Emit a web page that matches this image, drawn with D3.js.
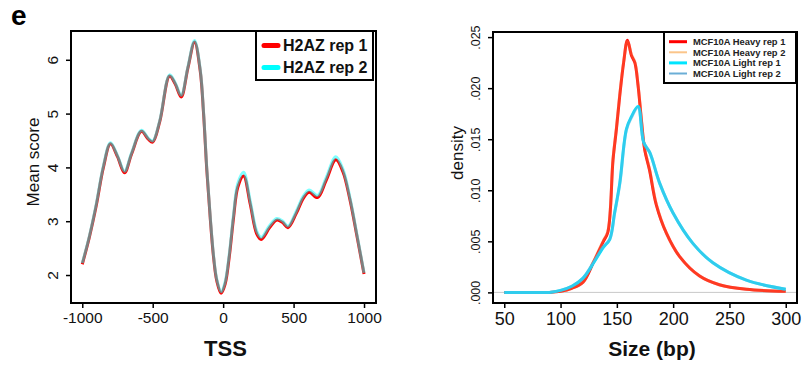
<!DOCTYPE html>
<html><head><meta charset="utf-8">
<script src="https://cdn.jsdelivr.net/npm/d3@7"></script>
<style>body{margin:0;background:#fff}svg{display:block;font-family:"Liberation Sans",Arial,sans-serif}</style>
</head><body><svg id="c" width="805" height="366"></svg>
<script>
// ---- Panel 1 data (H2AZ around TSS) ----
const tssPos = [-1000,-950,-900,-850,-800,-750,-700,-650,-580,-530,-500,-450,-380,-340,-298,-250,-203,-163,-139,-116,-92,-68,-45,-14,14,43,74,104,145,192,239,270,330,380,420,460,520,570,610,670,730,800,850,900,950,1000];
const h2azRep1 = [2.2,2.7,3.3,4.0,4.44,4.2,3.9,4.25,4.67,4.52,4.47,4.85,5.70,5.55,5.31,5.85,6.33,5.80,5.0,3.95,3.07,2.33,1.89,1.66,1.83,2.33,3.07,3.63,3.84,3.32,2.76,2.66,2.88,3.02,2.98,2.88,3.15,3.43,3.54,3.44,3.75,4.14,3.92,3.4,2.72,2.02];
const h2azRep2 = [2.22,2.72,3.33,4.03,4.46,4.22,3.93,4.27,4.69,4.54,4.49,4.87,5.72,5.57,5.34,5.87,6.36,5.83,5.03,3.98,3.10,2.36,1.92,1.69,1.87,2.38,3.13,3.70,3.91,3.38,2.81,2.70,2.92,3.05,3.01,2.91,3.19,3.47,3.58,3.48,3.80,4.20,3.97,3.44,2.75,2.04];
const tssXTicks = [-1000,-500,0,500,1000];
const tssYTicks = [2,3,4,5,6];
const tssSeries = ["H2AZ rep 1","H2AZ rep 2"];

// ---- Panel 2 data (fragment size density) ----
const heavySize = [50,60,70,80,90,100,110,120,129,138,142,146.6,149.6,152.5,156,159.4,163,166,168.8,171.7,174.7,179,185,194,205.8,223.5,241,265,300];
const heavyRep1 = [0,0,0,0,0,0.0001,0.0004,0.0010,0.0029,0.0050,0.0059,0.0130,0.0160,0.0192,0.0225,0.0247,0.0232,0.0225,0.0203,0.0170,0.0140,0.0120,0.0086,0.0058,0.0035,0.0016,0.00075,0.0003,0.0001];
const heavyRep2 = [0,0,0,0,0,0.0001,0.0004,0.0010,0.0030,0.0051,0.0060,0.0131,0.0161,0.0193,0.0226,0.0246,0.0233,0.0226,0.0204,0.0171,0.0141,0.0121,0.0087,0.0058,0.0035,0.0016,0.00075,0.0003,0.0001];
const lightSize = [50,60,70,80,90,100,110,120,130,138,143.7,148,152.6,158.5,162.9,168.8,173.8,179.2,188,199.8,217.5,235.3,265,300];
const lightRep1 = [0,0,0,0,0,0.0002,0.0006,0.0014,0.0030,0.0044,0.0052,0.0078,0.0107,0.0160,0.0172,0.0182,0.0147,0.0137,0.0107,0.0078,0.0048,0.0029,0.0012,0.0003];
const lightRep2 = [0,0,0,0,0,0.0002,0.0006,0.0014,0.0031,0.0045,0.0052,0.0077,0.0106,0.0159,0.0171,0.0181,0.0147,0.0137,0.0107,0.0078,0.0048,0.0029,0.0012,0.0003];
const sizeXTicks = [50,100,150,200,250,300];
const sizeYTicks = [0,0.005,0.010,0.015,0.020,0.025];
const sizeSeries = ["MCF10A Heavy rep 1","MCF10A Heavy rep 2","MCF10A Light rep 1","MCF10A Light rep 2"];

const svg = d3.select("#c");

// panel label
svg.append("text").attr("x",11).attr("y",25).attr("font-size",28).attr("font-weight","bold").text("e");

function frame(g, x0, x1, y0, y1){
  g.append("rect").attr("x",x0).attr("y",y0).attr("width",x1-x0).attr("height",y1-y0)
   .attr("fill","none").attr("stroke","#000").attr("stroke-width",2);
}

// ---------- Panel 1 ----------
{
  const L=71,R=376,T=31,B=303;
  const x = d3.scaleLinear().domain([-1080,1085]).range([L,R]);
  const y = d3.scaleLinear().domain([1.48,6.535]).range([B,T]);
  const g = svg.append("g");
  frame(g,L,R,T,B);
  const xa = g.append("g").attr("transform",`translate(0,${B})`)
    .call(d3.axisBottom(x).tickValues(tssXTicks).tickSize(5).tickPadding(4).tickSizeOuter(0).tickFormat(d=>String(d)));
  xa.select(".domain").remove();
  xa.selectAll("line").attr("stroke-width",1.5);
  xa.selectAll("text").attr("font-size",15.5).attr("font-family","Liberation Sans, Arial, sans-serif").attr("fill","#111");
  const ya = g.append("g").attr("transform",`translate(${L},0)`)
    .call(d3.axisLeft(y).tickValues(tssYTicks).tickSize(5).tickSizeOuter(0).tickFormat(d=>String(d)));
  ya.select(".domain").remove();
  ya.selectAll("line").attr("stroke-width",1.5);
  ya.selectAll("text").attr("font-size",15.5).attr("font-family","Liberation Sans, Arial, sans-serif").attr("fill","#111")
    .attr("x",0).attr("text-anchor","middle")
    .attr("transform","translate(-18,0) rotate(-90)").attr("dy","0.35em");
  const line = d3.line().x((d,i)=>x(tssPos[i])).y(d=>y(d)).curve(d3.curveCatmullRom.alpha(0.5));
  g.append("path").datum(h2azRep1).attr("d",line).attr("fill","none").attr("stroke","#ff0000").attr("stroke-width",3);
  g.append("path").datum(h2azRep2).attr("d",line).attr("fill","none").attr("stroke","#00ffff").attr("stroke-width",3).attr("stroke-opacity",0.5);
  svg.append("text").attr("transform","translate(39,162) rotate(-90)").attr("text-anchor","middle")
    .attr("font-size",17).attr("fill","#111").text("Mean score");
  svg.append("text").attr("x",(L+R)/2+2).attr("y",356).attr("text-anchor","middle")
    .attr("font-size",22).attr("font-weight","bold").attr("fill","#111").text("TSS");
  const lg = g.append("g");
  lg.append("rect").attr("x",256).attr("y",T).attr("width",R-256-3).attr("height",49)
    .attr("fill","#fff").attr("stroke","#000").attr("stroke-width",2);
  const lc = ["#ff0000","#00ffff"];
  tssSeries.forEach((s,i)=>{
    const yy = 45.5 + i*22;
    lg.append("line").attr("x1",264).attr("x2",278).attr("y1",yy).attr("y2",yy)
      .attr("stroke",lc[i]).attr("stroke-width",5).attr("stroke-linecap","round");
    lg.append("text").attr("x",283).attr("y",yy).attr("dy","0.36em").attr("font-size",16)
      .attr("font-weight","bold").attr("fill","#111").text(s);
  });
}

// ---------- Panel 2 ----------
{
  const L=493,R=797,T=32,B=303;
  const x = d3.scaleLinear().domain([40,310]).range([L,R]);
  const y = d3.scaleLinear().domain([-0.00104,0.0255]).range([B,T]);
  const g = svg.append("g");
  g.append("line").attr("x1",L).attr("x2",R).attr("y1",y(0)).attr("y2",y(0)).attr("stroke","#c8c8c8").attr("stroke-width",1);
  const mk = xs => d3.line().x((d,i)=>x(xs[i])).y(d=>y(d)).curve(d3.curveCatmullRom.alpha(0.5));
  const cols = ["#ff0000","#fdbf6f","#00e5ff","#6baed6"];
  const ops = [1,0.3,1,0.45];
  [[heavyRep1,heavySize],[heavyRep2,heavySize],[lightRep1,lightSize],[lightRep2,lightSize]].forEach(([s,xs],i)=>{
    g.append("path").datum(s).attr("d",mk(xs)).attr("fill","none").attr("stroke",cols[i])
      .attr("stroke-width",3).attr("stroke-opacity",ops[i]).attr("stroke-linejoin","round");
  });
  frame(g,L,R,T,B);
  const xa = g.append("g").attr("transform",`translate(0,${B})`)
    .call(d3.axisBottom(x).tickValues(sizeXTicks).tickSize(5).tickPadding(4).tickSizeOuter(0).tickFormat(d=>String(d)));
  xa.select(".domain").remove();
  xa.selectAll("line").attr("stroke-width",1.5);
  xa.selectAll("text").attr("font-size",18).attr("font-family","Liberation Sans, Arial, sans-serif").attr("fill","#111");
  const ya = g.append("g").attr("transform",`translate(${L},0)`)
    .call(d3.axisLeft(y).tickValues(sizeYTicks).tickSize(5).tickSizeOuter(0).tickFormat(d=>d3.format(".3f")(d).replace(/^0/,"")));
  ya.select(".domain").remove();
  ya.selectAll("line").attr("stroke-width",1.5);
  ya.selectAll("text").attr("font-size",12.5).attr("font-family","Liberation Sans, Arial, sans-serif").attr("fill","#111")
    .attr("x",0).attr("text-anchor","middle")
    .attr("transform","translate(-17,0) rotate(-90)").attr("dy","0.35em");
  svg.append("text").attr("transform","translate(463,153) rotate(-90)").attr("text-anchor","middle")
    .attr("font-size",17).attr("fill","#111").text("density");
  svg.append("text").attr("x",652).attr("y",356).attr("text-anchor","middle")
    .attr("font-size",21).attr("font-weight","bold").attr("fill","#111").text("Size (bp)");
  const lg = g.append("g");
  lg.append("rect").attr("x",664).attr("y",T).attr("width",R-664-1).attr("height",51)
    .attr("fill","#fff").attr("stroke","#000").attr("stroke-width",2);
  const lw = [3,2,3,2];
  sizeSeries.forEach((s,i)=>{
    const yy = 41.7 + i*10.6;
    lg.append("line").attr("x1",669).attr("x2",687).attr("y1",yy).attr("y2",yy)
      .attr("stroke",i===1?"#fbc58a":cols[i]).attr("stroke-width",lw[i]);
    lg.append("text").attr("x",693).attr("y",yy).attr("dy","0.36em").attr("font-size",9.4)
      .attr("font-weight","bold").attr("fill","#222").text(s);
  });
}
</script></body></html>
